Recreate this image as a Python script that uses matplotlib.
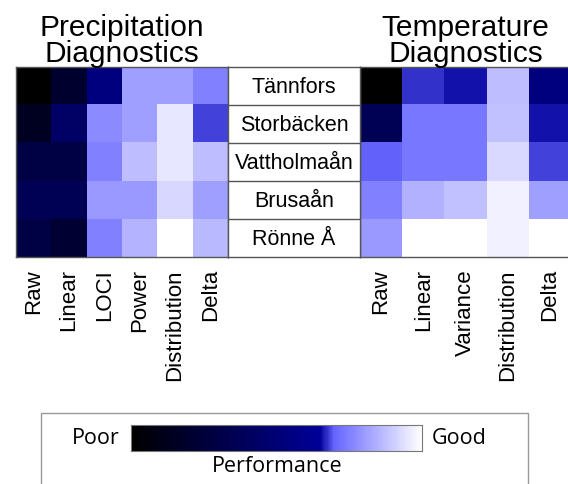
import numpy as np
import matplotlib
matplotlib.use("Agg")
import matplotlib.pyplot as plt
from matplotlib.colors import LinearSegmentedColormap
from matplotlib.patches import Rectangle

stations = ["Tännfors", "Storbäcken", "Vattholmaån", "Brusaån", "Rönne Å"]
precip_methods = ["Raw", "Linear", "LOCI", "Power", "Distribution", "Delta"]
temp_methods = ["Raw", "Linear", "Variance", "Distribution", "Delta"]

# performance scores (0 = poor, 1 = good)
precip_scores = [
    [0.00, 0.20, 0.54, 0.81, 0.81, 0.75],
    [0.14, 0.43, 0.77, 0.81, 0.95, 0.68],
    [0.29, 0.29, 0.75, 0.87, 0.95, 0.87],
    [0.36, 0.36, 0.80, 0.80, 0.92, 0.81],
    [0.29, 0.22, 0.75, 0.85, 1.00, 0.86],
]
temp_scores = [
    [0.00, 0.675, 0.658, 0.87, 0.54],
    [0.36, 0.733, 0.733, 0.876, 0.658],
    [0.697, 0.733, 0.733, 0.924, 0.683],
    [0.75, 0.845, 0.876, 0.97, 0.81],
    [0.80, 1.00, 1.00, 0.97, 1.00],
]

cmap = LinearSegmentedColormap.from_list(
    "perf",
    [(0.0, (0, 0, 0)), (0.65, (0, 0, 0.6)), (0.70, (0.4, 0.4, 1.0)), (1.0, (1, 1, 1))],
    N=256,
)

W, H = 568, 485
fig = plt.figure(figsize=(W / 100, H / 100), dpi=100)

def fx(px):
    return px / W

def fy(py):
    return 1 - py / H

top_px, bot_px = 68, 258
edge = "#555555"
tick_font = dict(family="Liberation Sans", size=16)

def heat(ax, data, labels, title):
    ax.imshow(np.array(data), cmap=cmap, vmin=0, vmax=1, aspect="auto", interpolation="nearest")
    ax.set_xticks(range(len(labels)))
    ax.set_xticklabels(labels, rotation=90, fontdict=tick_font)
    ax.tick_params(axis="x", length=0, pad=8)
    ax.set_yticks([])
    for s in ax.spines.values():
        s.set_color(edge)
        s.set_linewidth(1.0)
    ax.set_title(title, family="Liberation Sans", size=21.5, pad=4, linespacing=0.92)

ax1 = fig.add_axes([fx(16), fy(bot_px), fx(228 - 16), (bot_px - top_px) / H])
heat(ax1, precip_scores, precip_methods, "Precipitation\nDiagnostics")

ax2 = fig.add_axes([fx(360), fy(bot_px), fx(571 - 360), (bot_px - top_px) / H])
heat(ax2, temp_scores, temp_methods, "Temperature\nDiagnostics")

# station label table
axs = fig.add_axes([fx(228), fy(bot_px), fx(360 - 228), (bot_px - top_px) / H])
axs.set_xlim(0, 1)
axs.set_ylim(len(stations), 0)
axs.set_xticks([])
axs.set_yticks([])
for s in axs.spines.values():
    s.set_color(edge)
    s.set_linewidth(1.0)
for i, name in enumerate(stations):
    if i > 0:
        axs.axhline(i, color=edge, lw=1.0)
    axs.text(0.5, i + 0.52, name, ha="center", va="center", family="Liberation Sans", size=15.5)

# legend box
fig.patches.append(Rectangle((fx(41), fy(500)), fx(528 - 41), (500 - 414) / H,
                             transform=fig.transFigure, fill=False, edgecolor="#999999", lw=1.0))
axc = fig.add_axes([fx(131), fy(452), fx(422 - 131), (452 - 426) / H])
grad = np.linspace(0, 1, 256).reshape(1, -1)
axc.imshow(grad, cmap=cmap, aspect="auto", interpolation="nearest")
axc.set_xticks([])
axc.set_yticks([])
for s in axc.spines.values():
    s.set_color("#777777")
    s.set_linewidth(0.8)
leg_font = dict(family="Open Sans", size=15.5)
fig.text(fx(120), fy(439), "Poor", ha="right", va="center", **leg_font)
fig.text(fx(432), fy(439), "Good", ha="left", va="center", **leg_font)
fig.text(fx(277), fy(467), "Performance", ha="center", va="center", **leg_font)

fig.savefig("out.png", dpi=100)
